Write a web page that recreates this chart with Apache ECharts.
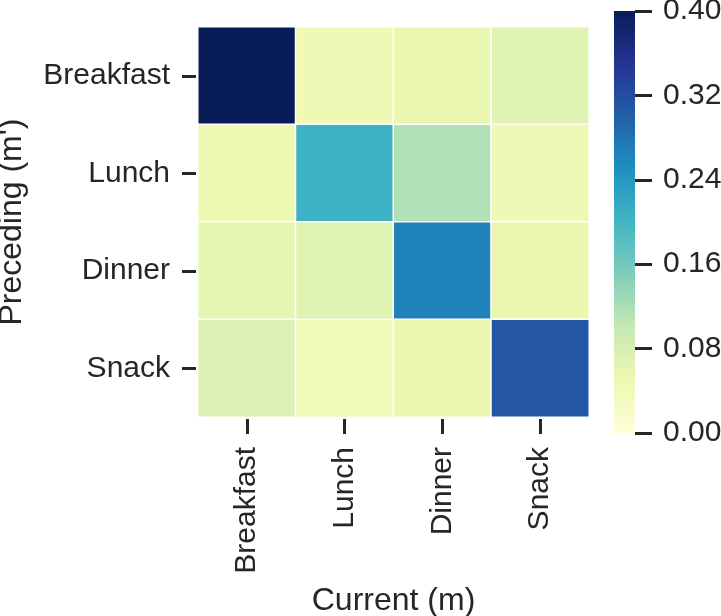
<!DOCTYPE html>
<html><head><meta charset="utf-8">
<script src="https://cdn.jsdelivr.net/npm/echarts@6/dist/echarts.min.js"></script>
<style>html,body{margin:0;padding:0;background:#fff}#c{width:721px;height:616px}</style>
</head><body><div id="c"></div>
<script>
const currentMeals = ['Breakfast','Lunch','Dinner','Snack'];
const precedingMeals = ['Breakfast','Lunch','Dinner','Snack'];
// rows: preceding (m'), columns: current (m)
const rowBreakfast = [0.41, 0.045, 0.055, 0.068];
const rowLunch = [0.050, 0.205, 0.115, 0.045];
const rowDinner = [0.060, 0.070, 0.265, 0.055];
const rowSnack = [0.075, 0.040, 0.052, 0.310];
const colorTicks = [0.00, 0.08, 0.16, 0.24, 0.32, 0.40];
const vMin = 0, vMax = 0.40;
const ylgnbu = ['#ffffd9','#edf8b1','#c7e9b4','#7fcdbb','#41b6c4','#1d91c0','#225ea8','#253494','#081d58'];

const rows = [rowBreakfast,rowLunch,rowDinner,rowSnack];
const data = [];
rows.forEach((r,i)=>r.forEach((v,j)=>data.push([j,i,v])));

const font = 'Liberation Sans, Arial, sans-serif';
const dark = '#262626';
const chart = echarts.init(document.getElementById('c'));
chart.setOption({
  animation:false,
  backgroundColor:'#fff',
  grid:[
    {left:198, top:27, width:391, height:390, outerBoundsMode:'none', containLabel:false},
    {left:614, top:11, width:21, height:422, outerBoundsMode:'none', containLabel:false}
  ],
  xAxis:[
    {type:'category', data:currentMeals, gridIndex:0, position:'bottom', offset:2,
     axisLine:{show:false}, splitArea:{show:false},
     axisTick:{show:true, alignWithLabel:true, length:15, lineStyle:{color:dark,width:3}},
     axisLabel:{rotate:90, fontSize:30, fontFamily:font, color:dark, margin:28},
     name:'Current (m)', nameLocation:'middle', nameGap:166,
     nameTextStyle:{fontSize:32, fontFamily:font, color:dark}},
    {type:'category', data:['cb'], gridIndex:1, show:false}
  ],
  yAxis:[
    {type:'category', data:precedingMeals, gridIndex:0, inverse:true, offset:2,
     axisLine:{show:false},
     axisTick:{show:true, alignWithLabel:true, length:14, lineStyle:{color:dark,width:3}},
     axisLabel:{fontSize:30, fontFamily:font, color:dark, margin:26},
     name:"Preceding (m')", nameLocation:'middle', nameGap:168, nameRotate:90,
     nameTextStyle:{fontSize:32, fontFamily:font, color:dark}},
    {type:'value', gridIndex:1, min:vMin, max:vMax, interval:0.08, position:'right',
     axisLine:{show:false}, splitLine:{show:false},
     axisTick:{show:true, length:17, lineStyle:{color:dark,width:3}},
     axisLabel:{fontSize:30, fontFamily:font, color:dark, margin:28,
       formatter:v=>v.toFixed(2)}}
  ],
  visualMap:{type:'continuous', min:vMin, max:vMax, show:false, seriesIndex:0,
    inRange:{color:ylgnbu}},
  series:[
    {type:'heatmap', xAxisIndex:0, yAxisIndex:0, data:data,
     itemStyle:{borderColor:'#ffffff', borderWidth:1.5}},
    {type:'bar', xAxisIndex:1, yAxisIndex:1, data:[vMax], barWidth:'100%',
     itemStyle:{color:new echarts.graphic.LinearGradient(0,1,0,0,
       ylgnbu.map((c,i)=>({offset:i/(ylgnbu.length-1), color:c})))}}
  ]
});
</script></body></html>
